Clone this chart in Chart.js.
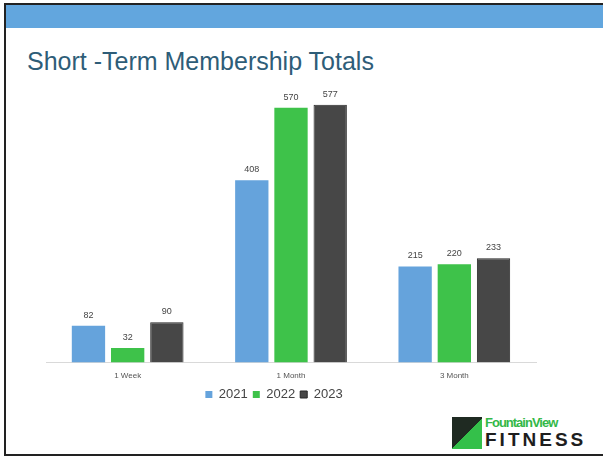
<!DOCTYPE html>
<html>
<head>
<meta charset="utf-8">
<script src="https://cdn.jsdelivr.net/npm/chart.js@4"></script>
<style>
    body { margin: 0; background: #fff; }
    #slide { position: relative; width: 603px; height: 457px; overflow: hidden; font-family: "Liberation Sans", Arial, sans-serif; }
    #frame { position: absolute; left: 4px; top: 3px; width: 620px; height: 449px; border-left: 2px solid #222; border-top: 2px solid #222; border-bottom: 2px solid #222; }
    #band { position: absolute; left: 6px; top: 5px; width: 600px; height: 23px; background: #62a6de; }
    #title { position: absolute; left: 27px; top: 47px; font-size: 25px; color: #2e5d78; }
    #chartBox { position: absolute; left: 0; top: 90px; width: 603px; height: 321px; }
    #logo { position: absolute; left: 452px; top: 414px; width: 140px; height: 36px; }
    #logo .mark { position: absolute; left: 0; top: 3px; width: 30px; height: 32px; background: linear-gradient(135deg, #1f2a22 50%, #34c04a 50%); }
    #logo .top { position: absolute; left: 33px; top: 1px; font-size: 13px; font-weight: bold; color: #33b847; letter-spacing: -1px; }
    #logo .bottom { position: absolute; left: 33px; top: 15px; font-size: 19px; font-weight: bold; color: #1e1e1e; letter-spacing: 3px; }
</style>
</head>
<body>
<div id="slide">
    <div id="frame"></div>
    <div id="band"></div>
    <div id="title">Short -Term Membership Totals</div>
    <div id="chartBox"><canvas id="membership"></canvas></div>
    <div id="logo"><div class="mark"></div><div class="top">FountainView</div><div class="bottom">FITNESS</div></div>
</div>
<script>
const categories = ['1 Week', '1 Month', '3 Month'];
const years = ['2021', '2022', '2023'];
const totals2021 = [82, 408, 215];
const totals2022 = [32, 570, 220];
const totals2023 = [90, 577, 233];

// draws the value above each bar
const valueLabels = {
    id: 'valueLabels',
    afterDatasetsDraw(chart) {
        const ctx = chart.ctx;
        ctx.save();
        ctx.font = '9px "Liberation Sans", Arial, sans-serif';
        ctx.fillStyle = '#444';
        ctx.textAlign = 'center';
        ctx.textBaseline = 'bottom';
        chart.data.datasets.forEach((ds, i) => {
            chart.getDatasetMeta(i).data.forEach((bar, j) => {
                ctx.fillText(ds.data[j], bar.x, bar.y - 6);
            });
        });
        ctx.restore();
    }
};

// legend sits a little left of the plot centre on the slide
const legendShift = {
    id: 'legendShift',
    afterLayout(chart) {
        chart.legend.left -= 17;
        chart.legend.right -= 17;
    }
};

const ctx = document.getElementById('membership').getContext('2d');
new Chart(ctx, {
    type: 'bar',
    data: {
        labels: categories,
        datasets: [
            { label: years[0], data: totals2021, backgroundColor: '#65a3dc', borderColor: '#65a3dc', borderWidth: 0 },
            { label: years[1], data: totals2022, backgroundColor: '#3ec24a', borderColor: '#3ec24a', borderWidth: 0 },
            { label: years[2], data: totals2023, backgroundColor: '#474747', borderColor: '#262626', borderWidth: 1 }
        ]
    },
    options: {
        responsive: true,
        maintainAspectRatio: false,
        animation: false,
        layout: { padding: { left: 46, right: 67, top: 0, bottom: 0 } },
        datasets: { bar: { categoryPercentage: 0.72, barPercentage: 0.85 } },
        scales: {
            x: {
                grid: { display: false, drawTicks: false },
                border: { color: '#d9d9d9' },
                ticks: { color: '#555', font: { size: 8 }, padding: 9 },
                afterFit: (scale) => { scale.height -= 7; }
            },
            y: {
                display: false,
                min: 0,
                max: 610
            }
        },
        plugins: {
            legend: {
                position: 'bottom',
                labels: { color: '#444', font: { size: 13 }, boxWidth: 7, boxHeight: 7, padding: 5 }
            },
            tooltip: { enabled: false }
        }
    },
    plugins: [valueLabels, legendShift]
});
</script>
</body>
</html>
